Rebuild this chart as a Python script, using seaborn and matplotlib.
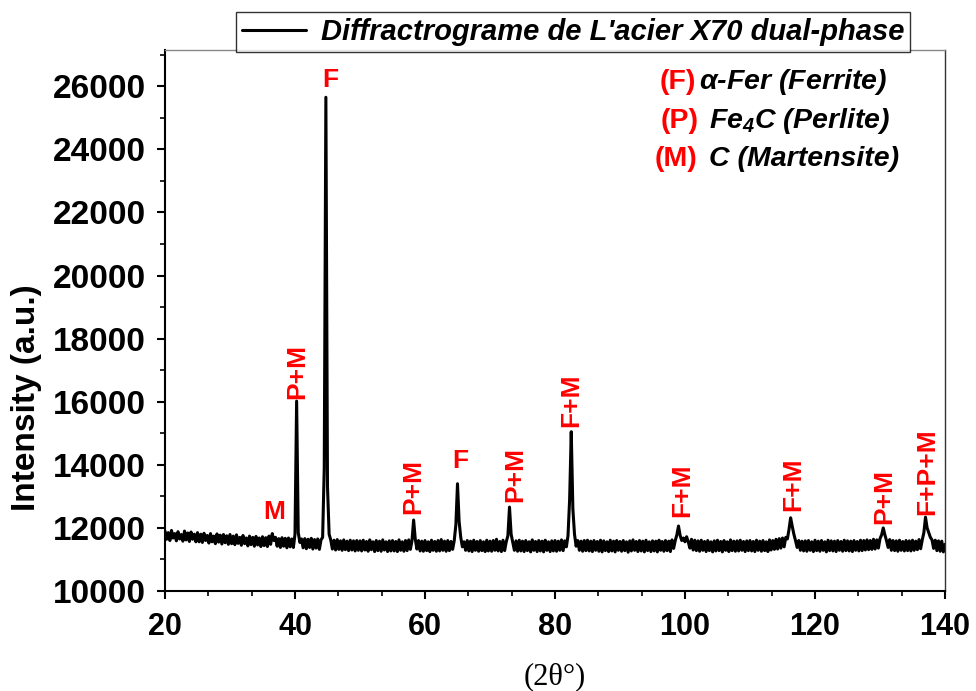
import numpy as np
import matplotlib
matplotlib.use("Agg")
import matplotlib.pyplot as plt
from matplotlib.ticker import MultipleLocator, AutoMinorLocator
import seaborn as sns

sns.set_style("ticks")
plt.rcParams['font.family'] = ['Liberation Sans', 'DejaVu Sans']
plt.rcParams['mathtext.fontset'] = 'custom'
plt.rcParams['mathtext.rm'] = 'Liberation Sans:bold'
plt.rcParams['mathtext.it'] = 'Liberation Sans:italic:bold'
plt.rcParams['mathtext.bf'] = 'Liberation Sans:italic:bold'
for key in ['text.color', 'axes.labelcolor', 'xtick.color', 'ytick.color', 'axes.edgecolor']:
    plt.rcParams[key] = 'black'

# scan grid (2theta, deg) and intensity, 0.25 deg steps
two_theta = np.arange(20.0, 140.001, 0.25)
intensity = [
    # 20 - 24.75
    11900, 11640, 11850, 11600, 11920, 11680, 11820, 11590, 11880, 11650,
    11790, 11580, 11900, 11620, 11840, 11570, 11870, 11640, 11800, 11560,
    # 25 - 29.75
    11850, 11560, 11800, 11540, 11830, 11600, 11760, 11520, 11820, 11560,
    11740, 11500, 11810, 11550, 11770, 11490, 11790, 11530, 11750, 11480,
    # 30 - 34.75
    11790, 11500, 11740, 11470, 11780, 11510, 11700, 11450, 11760, 11500,
    11680, 11430, 11740, 11470, 11700, 11420, 11730, 11460, 11680, 11410,
    # 35 - 39.75
    11720, 11440, 11690, 11410, 11740, 11480, 11820, 11600, 11700, 11420,
    11660, 11380, 11690, 11420, 11670, 11370, 11680, 11400, 11650, 11380,
    # 40 - 44.75
    11800, 16020, 11850, 11540, 11650, 11370, 11660, 11340, 11640, 11380,
    11670, 11330, 11630, 11360, 11650, 11320, 11620, 11700, 13900, 25650,
    # 45 - 49.75
    13300, 11800, 11620, 11330, 11610, 11300, 11630, 11320, 11590, 11290,
    11620, 11310, 11580, 11280, 11610, 11300, 11590, 11270, 11600, 11290,
    # 50 - 54.75
    11590, 11270, 11610, 11300, 11570, 11260, 11620, 11310, 11560, 11250,
    11600, 11280, 11580, 11260, 11620, 11300, 11560, 11250, 11590, 11270,
    # 55 - 59.75
    11600, 11270, 11570, 11250, 11620, 11290, 11560, 11260, 11600, 11280,
    11620, 11320, 11600, 12250, 11650, 11330, 11600, 11270, 11580, 11260,
    # 60 - 64.75
    11600, 11280, 11560, 11250, 11610, 11290, 11570, 11260, 11600, 11270,
    11630, 11290, 11580, 11260, 11600, 11280, 11570, 11320, 11600, 12100,
    # 65 - 69.75
    13400, 12200, 11700, 11400, 11560, 11290, 11600, 11270, 11580, 11250,
    11610, 11290, 11570, 11260, 11600, 11280, 11560, 11250, 11610, 11270,
    # 70 - 74.75
    11580, 11260, 11600, 11290, 11640, 11270, 11570, 11250, 11610, 11280,
    11560, 11750, 12660, 11800, 11540, 11290, 11590, 11260, 11610, 11270,
    # 75 - 79.75
    11580, 11250, 11600, 11280, 11560, 11240, 11620, 11290, 11570, 11250,
    11600, 11270, 11580, 11240, 11610, 11290, 11560, 11250, 11590, 11270,
    # 80 - 84.75
    11600, 11260, 11580, 11290, 11620, 11280, 11590, 11400, 11750, 12900,
    15050, 12600, 11800, 11420, 11600, 11290, 11580, 11260, 11600, 11280,
    # 85 - 89.75
    11610, 11270, 11580, 11250, 11600, 11290, 11570, 11260, 11610, 11240,
    11590, 11280, 11560, 11250, 11610, 11270, 11580, 11240, 11600, 11290,
    # 90 - 94.75
    11570, 11260, 11600, 11280, 11560, 11230, 11590, 11270, 11620, 11290,
    11570, 11250, 11600, 11270, 11580, 11240, 11610, 11280, 11560, 11250,
    # 95 - 99.75
    11590, 11270, 11580, 11240, 11610, 11290, 11570, 11260, 11600, 11280,
    11580, 11250, 11620, 11350, 11600, 11780, 12060, 11760, 11600, 11680,
    # 100 - 104.75
    11560, 11720, 11560, 11360, 11640, 11300, 11610, 11280, 11590, 11260,
    11610, 11290, 11570, 11250, 11600, 11280, 11560, 11240, 11590, 11270,
    # 105 - 109.75
    11610, 11280, 11570, 11240, 11600, 11290, 11560, 11250, 11620, 11280,
    11580, 11260, 11590, 11270, 11610, 11290, 11570, 11250, 11590, 11280,
    # 110 - 114.75
    11600, 11270, 11570, 11250, 11610, 11290, 11580, 11260, 11600, 11280,
    11560, 11250, 11620, 11300, 11600, 11320, 11640, 11330, 11660, 11360,
    # 115 - 119.75
    11680, 11400, 11700, 11650, 11950, 12320, 12050, 11800, 11600, 11380,
    11600, 11290, 11580, 11270, 11590, 11260, 11600, 11290, 11560, 11250,
    # 120 - 124.75
    11610, 11280, 11580, 11260, 11600, 11290, 11560, 11240, 11610, 11280,
    11590, 11270, 11580, 11250, 11600, 11290, 11570, 11260, 11610, 11280,
    # 125 - 129.75
    11590, 11270, 11580, 11250, 11600, 11290, 11570, 11270, 11610, 11280,
    11600, 11300, 11620, 11310, 11600, 11320, 11640, 11330, 11620, 11360,
    # 130 - 134.75
    11660, 11780, 12000, 11780, 11600, 11380, 11630, 11290, 11600, 11280,
    11590, 11260, 11610, 11290, 11570, 11270, 11600, 11280, 11590, 11270,
    # 135 - 139.75
    11610, 11290, 11580, 11310, 11630, 11340, 11620, 11850, 12340, 12000,
    11850, 11700, 11620, 11350, 11610, 11280, 11590, 11260, 11580, 11240,
    # 140
    11480,
]

# phase labels: text, 2theta, intensity, rotation
peak_labels = ["M", "P+M", "F", "P+M", "F", "P+M", "F+M", "F+M", "F+M", "P+M", "F+P+M"]
label_x = [36.85, 40.3, 45.4, 58.15, 65.4, 73.9, 82.46, 99.6, 116.7, 130.7, 137.2]
label_y = [12500, 16970, 26200, 13300, 14120, 13680, 16050, 13180, 13390, 12980, 13770]
label_rot = [0, 90, 0, 90, 0, 90, 90, 90, 90, 90, 90]

phase_codes = ["(F)", "(P)", "(M)"]
phase_names = [r"$\alpha$-Fer (Ferrite)", r"Fe$_\mathbf{4}$C (Perlite)", "C (Martensite)"]

fig = plt.figure(figsize=(9.76, 6.91), dpi=100)
ax = fig.add_axes([165 / 976, 100 / 691, 780 / 976, 541 / 691])

sns.lineplot(x=two_theta, y=intensity, ax=ax, color="black", linewidth=2.2,
             label="Diffractrograme de L'acier X70 dual-phase")

ax.set_xlim(20, 140)
ax.set_ylim(10000, 27150)
ax.xaxis.set_major_locator(MultipleLocator(20))
ax.xaxis.set_minor_locator(AutoMinorLocator(3))
ax.yaxis.set_major_locator(MultipleLocator(2000))
ax.yaxis.set_minor_locator(AutoMinorLocator(2))

ax.tick_params(which="major", direction="out", length=6, width=1.5, pad=8)
ax.tick_params(which="minor", direction="out", length=3.5, width=1.2)
ax.tick_params(axis="x", which="major", labelsize=22, pad=9)
ax.tick_params(axis="y", which="major", labelsize=24)
for lab in ax.get_xticklabels() + ax.get_yticklabels():
    lab.set_fontweight("bold")

ax.spines["left"].set_linewidth(1.5)
ax.spines["bottom"].set_linewidth(1.5)
ax.spines["right"].set_linewidth(1.0)
ax.spines["right"].set_color("#333333")
ax.spines["top"].set_linewidth(1.0)
ax.spines["top"].set_color("#888888")

ax.set_ylabel("Intensity (a.u.)", fontsize=24, fontweight="bold")
ax.yaxis.set_label_coords(-0.158, 0.357)
ax.set_xlabel("(2θ°)", fontsize=22, family="Liberation Serif")
ax.xaxis.set_label_coords(0.5, -0.132)

for txt, x, y, rot in zip(peak_labels, label_x, label_y, label_rot):
    ax.text(x, y, txt, color="red", fontsize=19, fontweight="bold",
            rotation=rot, ha="center", va="center")

leg = ax.legend(loc="upper left", bbox_to_anchor=(236 / 976, 1 - 12 / 691),
                bbox_transform=fig.transFigure, borderaxespad=0, fancybox=False,
                handlelength=2.2, handletextpad=0.5, borderpad=0.2,
                prop={"weight": "bold", "style": "italic", "size": 21})
leg.get_frame().set_edgecolor("black")
leg.get_frame().set_linewidth(1.0)

code_pos = [(660, 82), (661, 121.5), (655, 159)]
gaps = [2, 7, 8]
for code, name, (px, py), g in zip(phase_codes, phase_names, code_pos, gaps):
    t = fig.text(px / 976, 1 - py / 691, code, color="red", fontsize=20.5,
                 fontweight="bold", ha="left", va="center")
    ax.annotate(name, xy=(1, 0.5), xycoords=t, xytext=(g, 0),
                textcoords="offset points", ha="left", va="center",
                fontsize=20.5, fontweight="bold", fontstyle="italic", color="black")

fig.savefig("out.png", dpi=100)
